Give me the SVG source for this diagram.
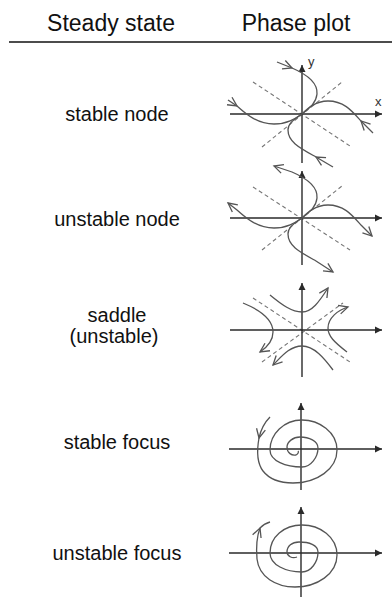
<svg xmlns="http://www.w3.org/2000/svg" width="392" height="598" viewBox="0 0 392 598">
<defs>
<style>
.hdr{font-family:"Liberation Sans",Arial,sans-serif;font-size:23px;fill:#111;text-anchor:middle}
.lbl{font-family:"Liberation Sans",Arial,sans-serif;font-size:20px;fill:#111;text-anchor:middle}
.ax{stroke:#2a2a2a;stroke-width:1.4;fill:none}
.axl{font-family:"Liberation Sans",Arial,sans-serif;font-size:13px;fill:#333}
.dash{stroke:#777;stroke-width:1.1;stroke-dasharray:4 3;fill:none}
.tr{stroke:#555;stroke-width:1.3;fill:none}
</style>
<marker id="axh" markerUnits="userSpaceOnUse" viewBox="-8 -4 9 8" refX="0" refY="0" markerWidth="9" markerHeight="8" orient="auto">
<path d="M-7,-3.5 L0,0 L-7,3.5 Z" fill="#2a2a2a"/>
</marker>
<marker id="chev" markerUnits="userSpaceOnUse" viewBox="-11 -6 13 12" refX="0" refY="0" markerWidth="13" markerHeight="12" orient="auto" overflow="visible">
<path d="M-9,-4.5 L0,0 L-9,4.5" fill="none" stroke="#555" stroke-width="1.3"/>
</marker>
</defs>

<g id="header">
<text class="hdr" x="111" y="31">Steady state</text>
<text class="hdr" x="296" y="31">Phase plot</text>
<line x1="9" y1="42" x2="392" y2="42" stroke="#111" stroke-width="1.5"/>
</g>

<g id="labels">
<text id="lbl-stable-node" class="lbl" x="117" y="121">stable node</text>
<text id="lbl-unstable-node" class="lbl" x="117" y="226">unstable node</text>
<text id="lbl-saddle" class="lbl" x="117" y="322">saddle</text>
<text id="lbl-saddle2" class="lbl" x="114" y="343">(unstable)</text>
<text id="lbl-stable-focus" class="lbl" x="117" y="449">stable focus</text>
<text id="lbl-unstable-focus" class="lbl" x="117" y="560">unstable focus</text>
</g>

<g id="plot-stable-node" transform="translate(302,114)">
<line class="dash" x1="-49" y1="-32" x2="48" y2="32"/>
<line class="dash" x1="-40" y1="33" x2="40" y2="-32"/>
<line class="ax" x1="0" y1="49" x2="0" y2="-49" marker-end="url(#axh)"/>
<line class="ax" x1="-72" y1="0" x2="80" y2="0" marker-end="url(#axh)"/>
<text class="axl" x="6" y="-48">y</text>
<text class="axl" x="73" y="-8">x</text>
<path class="tr" d="M-25,-52 L-10,-46" marker-end="url(#chev)"/>
<path class="tr" d="M-10,-46 C4,-40 16,-32 15,-20 C14,-10 6,-5 0,0"/>
<path class="tr" d="M-74,-14 L-65,-8" marker-end="url(#chev)"/>
<path class="tr" d="M-65,-8 C-55,1 -44,10 -28,10 C-14,10 -6,4 0,0"/>
<path class="tr" d="M71,19 L59,7" marker-end="url(#chev)"/>
<path class="tr" d="M59,7 C50,-3 42,-13 26,-13 C13,-13 5,-5 0,0"/>
<path class="tr" d="M31,53 L14,43" marker-end="url(#chev)"/>
<path class="tr" d="M14,43 C-2,34 -14,28 -14,16 C-14,8 -5,4 0,0"/>
</g>

<g id="plot-unstable-node" transform="translate(302,218)">
<line class="dash" x1="-49" y1="-31" x2="48" y2="32"/>
<line class="dash" x1="-40" y1="32" x2="40" y2="-32"/>
<line class="ax" x1="0" y1="47" x2="0" y2="-47" marker-end="url(#axh)"/>
<line class="ax" x1="-72" y1="0" x2="80" y2="0" marker-end="url(#axh)"/>
<path class="tr" d="M0,0 C6,-5 14,-10 15,-20 C16,-32 4,-40 -10,-46 L-28,-52" marker-end="url(#chev)"/>
<path class="tr" d="M0,0 C-6,4 -14,10 -28,10 C-44,10 -55,1 -65,-8 L-74,-15" marker-end="url(#chev)"/>
<path class="tr" d="M0,0 C5,-5 13,-13 26,-13 C42,-13 50,-3 59,7 L70,18" marker-end="url(#chev)"/>
<path class="tr" d="M0,0 C-5,4 -14,8 -14,16 C-14,28 -2,34 14,43 L31,54" marker-end="url(#chev)"/>
</g>

<g id="plot-saddle" transform="translate(302,330)">
<line class="dash" x1="-49" y1="-32" x2="48" y2="32"/>
<line class="dash" x1="-40" y1="32" x2="41" y2="-27"/>
<line class="ax" x1="0" y1="47" x2="0" y2="-47" marker-end="url(#axh)"/>
<line class="ax" x1="-72" y1="0" x2="80" y2="0" marker-end="url(#axh)"/>
<path class="tr" d="M-32,-35 C-20,-25 -10,-18 0,-18 C10,-18 17,-28 26,-42" marker-end="url(#chev)"/>
<path class="tr" d="M45,22 C32,12 26,6 26,-2 C26,-12 36,-20 46,-23" marker-end="url(#chev)"/>
<path class="tr" d="M-59,-27 C-42,-20 -29,-10 -29,2 C-29,12 -36,18 -42,22" marker-end="url(#chev)"/>
<path class="tr" d="M31,40 C22,28 12,16 0,16 C-12,16 -20,26 -29,35" marker-end="url(#chev)"/>
</g>

<g id="plot-stable-focus" transform="translate(301,449)">
<line class="ax" x1="0" y1="41" x2="0" y2="-46" marker-end="url(#axh)"/>
<line class="ax" x1="-72" y1="0" x2="81" y2="0" marker-end="url(#axh)"/>
<path class="tr" d="M-31,-32 C-36,-27 -40,-20 -42,-11" marker-end="url(#chev)"/>
<path class="tr" d="M-42,-11 C-44,0 -44,14 -38,22 C-31,31 -20,34 -8,34 C16,34 36,20 36,1 C36,-17 18,-29 1,-29 C-17,-29 -31,-15 -31,1 C-31,12 -15,18 1,18 C10,18 17,8 17,-1 C17,-8 8,-12 -1,-12 C-8,-12 -14,-7 -14,-2 C-14,4 -9,7 -5,6 C-3,5 -2,3 -3,2"/>
</g>

<g id="plot-unstable-focus" transform="translate(301,553)">
<line class="ax" x1="0" y1="44" x2="0" y2="-46" marker-end="url(#axh)"/>
<line class="ax" x1="-72" y1="0" x2="81" y2="0" marker-end="url(#axh)"/>
<path class="tr" d="M-4,4 C-9,6 -14,3 -14,-1 C-14,-7 -9,-11 -2,-11 C8,-11 17,-8 17,-1 C17,9 10,19 1,19 C-15,19 -31,12 -31,0 C-31,-16 -17,-28 1,-28 C19,-28 36,-16 36,2 C36,21 16,34 -6,34 C-25,34 -42,24 -44,6 C-45,-6 -44,-17 -41,-25" marker-end="url(#chev)"/>
<path class="tr" d="M-41,-25 C-38,-28 -35,-30 -31,-31"/>
</g>
</svg>
